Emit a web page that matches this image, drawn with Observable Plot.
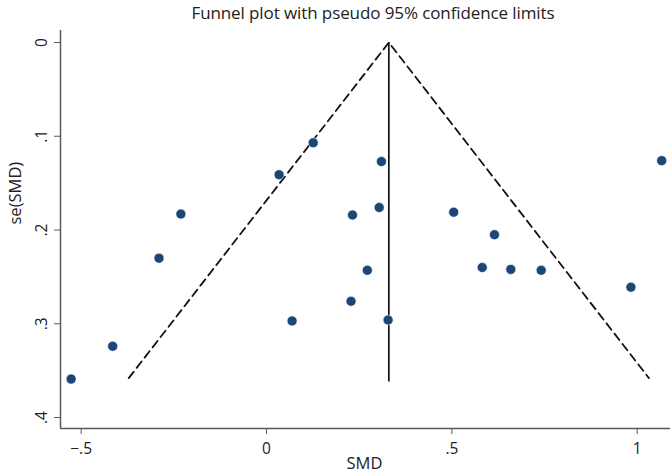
<!DOCTYPE html>
<html><head><meta charset="utf-8">
<script src="https://cdn.jsdelivr.net/npm/d3@7"></script>
<script src="https://cdn.jsdelivr.net/npm/@observablehq/plot@0.6"></script>
<style>
body{margin:0;background:#fff;font-family:"Open Sans",sans-serif;}
#title{width:670px;box-sizing:border-box;padding-left:76px;height:26px;line-height:25px;text-align:center;font-size:17px;color:#222;letter-spacing:-0.1px;}
</style></head><body>
<div id="title">Funnel plot with pseudo 95% confidence limits</div>
<div id="chart"></div>
<script>
// study estimates
const smd = [-0.527, -0.415, -0.290, -0.231, 0.034, 0.126, 0.069, 0.232, 0.228, 0.272, 0.304, 0.310, 0.328, 0.505, 0.615, 0.582, 0.659, 0.741, 0.983, 1.066];
const se  = [ 0.359,  0.324,  0.230,  0.183, 0.141, 0.107, 0.297, 0.184, 0.276, 0.243, 0.176, 0.127, 0.296, 0.181, 0.205, 0.240, 0.242, 0.243, 0.261, 0.126];
// pooled estimate and funnel extent
const pooled = 0.33;
const seMax = 0.358;
const zCrit = 1.96;
// axes
const xTicks = [-0.5, 0, 0.5, 1];
const xTickLabels = ["\u2212.5", "0", ".5", "1"];
const yTicks = [0, 0.1, 0.2, 0.3, 0.4];
const yTickLabels = ["0", ".1", ".2", ".3", ".4"];
const xDomain = [-0.5557, 1.0898];
const yDomain = [-0.0128, 0.4117];

const studies = smd.map((d, i) => ({smd: d, se: se[i]}));
const funnel = [
  {x: pooled - zCrit * seMax, y: seMax},
  {x: pooled, y: 0},
  {x: pooled + zCrit * seMax, y: seMax}
];
const axisColor = "#5a5a5a";

const chart = Plot.plot({
  width: 670, height: 449,
  marginLeft: 60, marginRight: 0, marginTop: 4, marginBottom: 47,
  x: {domain: xDomain, axis: null},
  y: {domain: yDomain, reverse: true, axis: null},
  style: {fontFamily: "'Open Sans', sans-serif", fontSize: "15px", color: "#222", background: "#fff", overflow: "visible"},
  marks: [
    Plot.axisX(xTicks, {tickSize: 6, tickPadding: 8, stroke: axisColor, fill: "#222", fontSize: 15.5,
      tickFormat: d => xTickLabels[xTicks.indexOf(d)], label: null}),
    Plot.axisY(yTicks, {tickSize: 6, stroke: axisColor, tickFormat: () => "", label: null}),
    Plot.text(yTicks, {x: () => xDomain[0], y: d => d, text: d => yTickLabels[yTicks.indexOf(d)],
      rotate: -90, dx: -18, fontSize: 15.5, fill: "#222"}),
    Plot.ruleX([xDomain[0]], {stroke: axisColor, strokeWidth: 1.5}),
    Plot.ruleY([yDomain[1]], {stroke: axisColor, strokeWidth: 1.5}),
    Plot.text(["se(SMD)"], {frameAnchor: "left", rotate: -90, dx: -45, dy: -5, fontSize: 16.5, fill: "#222"}),
    Plot.text(["SMD"], {frameAnchor: "bottom", dy: 40, dx: -1, fontSize: 16.5, fill: "#222"}),
    Plot.line(funnel, {x: "x", y: "y", stroke: "#111", strokeWidth: 1.8, strokeDasharray: "8,5"}),
    Plot.ruleX([pooled], {y1: 0, y2: seMax + 0.004, stroke: "#111", strokeWidth: 1.7}),
    Plot.dot(studies, {x: "smd", y: "se", r: 5, fill: "#1a4775", stroke: "#fff", strokeWidth: 0.6})
  ]
});
document.getElementById("chart").appendChild(chart);
</script>
</body></html>
